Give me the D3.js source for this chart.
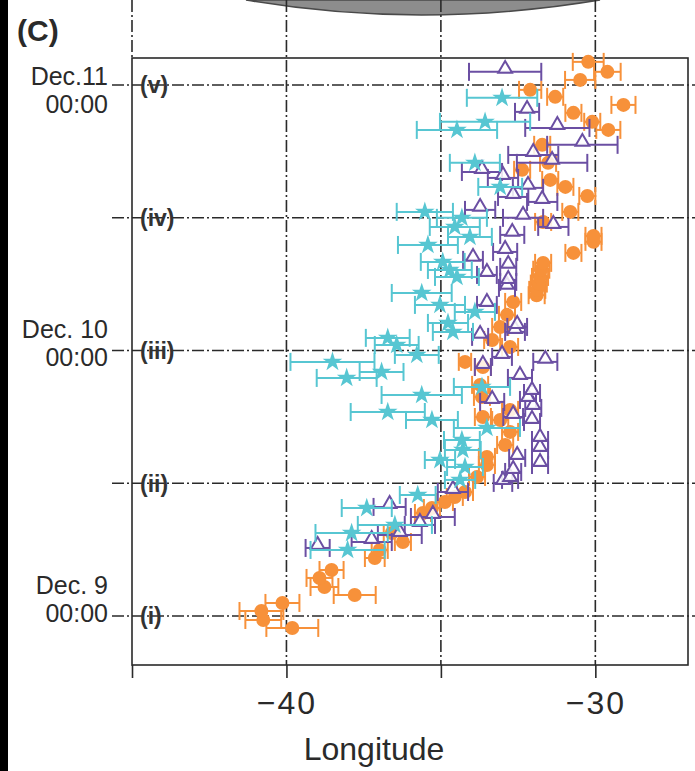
<!DOCTYPE html>
<html>
<head>
<meta charset="utf-8">
<script src="https://cdn.jsdelivr.net/npm/d3@7"></script>
<style>
  html, body { margin: 0; padding: 0; background: #fff; }
  svg { display: block; }
  text { font-family: "Liberation Sans", Arial, Helvetica, sans-serif; fill: #2a2a2a; }
</style>
</head>
<body>
<svg id="chart" width="695" height="771"></svg>
<script>
// Tracked features: [hours after Dec. 9 00:00, longitude, half-width of uncertainty in degrees]
const orangeCircles = [
  [-1.08, -39.81, 0.84], [-0.36, -40.75, 0.58], [0.45, -40.81, 0.71], [1.18, -40.13, 0.55],
  [1.90, -37.79, 0.68], [2.62, -38.77, 0.45], [3.44, -38.93, 0.42], [4.16, -38.54, 0.39],
  [5.24, -37.14, 0.32], [5.97, -36.98, 0.26], [6.69, -36.23, 0.26], [7.50, -36.59, 0.26],
  [9.31, -35.58, 0.26], [9.76, -35.29, 0.26], [10.31, -34.87, 0.26], [10.76, -34.55, 0.26],
  [11.21, -34.22, 0.26], [12.57, -33.83, 0.26], [13.65, -33.51, 0.26], [14.38, -33.51, 0.26],
  [15.46, -32.92, 0.26], [16.64, -32.76, 0.26], [17.72, -33.08, 0.26], [17.99, -33.64, 0.26],
  [18.63, -32.76, 0.26], [19.80, -33.67, 0.26], [20.89, -33.73, 0.26], [22.51, -33.64, 0.26],
  [22.97, -34.22, 0.20], [24.95, -33.34, 0.26], [24.32, -32.76, 0.26], [26.13, -33.08, 0.26],
  [27.22, -32.86, 0.26], [28.39, -32.66, 0.26], [29.00, -31.90, 0.26], [29.48, -31.88, 0.26],
  [30.05, -31.83, 0.26], [30.65, -31.79, 0.26], [31.30, -31.75, 0.26], [31.92, -31.69, 0.26],
  [32.82, -30.71, 0.26], [33.82, -30.06, 0.26], [34.36, -30.06, 0.26],
  [35.62, -31.69, 0.26], [36.53, -30.81, 0.26], [37.97, -30.26, 0.26], [38.79, -30.97, 0.26],
  [39.42, -31.46, 0.26], [40.33, -32.37, 0.26], [40.96, -31.53, 0.26], [42.59, -31.72, 0.26],
  [43.94, -29.58, 0.39], [44.67, -30.10, 0.26], [45.48, -30.71, 0.26], [46.20, -29.09, 0.39],
  [46.93, -31.30, 0.26], [47.56, -32.11, 0.36], [48.46, -30.49, 0.49], [49.19, -29.61, 0.43],
  [50.09, -30.23, 0.50]
];

const purpleTriangles = [
  [6.15, -38.99, 0.39], [6.69, -37.24, 0.65], [7.32, -36.33, 0.71], [9.86, -36.66, 0.52],
  [8.23, -35.68, 0.49], [8.95, -35.26, 0.71], [11.21, -34.61, 0.49], [12.03, -32.99, 0.30],
  [12.30, -32.76, 0.26], [13.02, -32.66, 0.26], [13.65, -31.79, 0.26], [14.29, -32.53, 0.26],
  [15.01, -31.79, 0.26], [15.91, -31.79, 0.26], [17.54, -32.05, 0.26], [17.99, -32.66, 0.32],
  [18.81, -32.01, 0.26], [19.53, -32.18, 0.26], [20.16, -32.05, 0.26], [19.35, -33.34, 0.39],
  [21.52, -32.44, 0.39], [22.97, -31.62, 0.39], [23.42, -33.02, 0.32], [22.51, -33.64, 0.26],
  [25.23, -33.73, 0.26], [25.68, -32.60, 0.32], [26.13, -32.53, 0.32], [28.12, -33.51, 0.32],
  [29.66, -32.86, 0.26], [30.20, -32.82, 0.26], [31.56, -32.82, 0.26], [30.83, -33.51, 0.32],
  [32.19, -33.96, 0.32], [32.91, -32.92, 0.39], [34.45, -32.69, 0.39], [35.17, -31.36, 0.49],
  [35.99, -32.34, 0.65], [36.71, -33.73, 0.49], [37.43, -31.72, 0.49], [37.88, -32.66, 0.49],
  [38.70, -32.18, 0.49], [39.60, -32.99, 0.49], [40.14, -33.67, 0.65], [40.96, -31.40, 1.14],
  [41.68, -32.01, 0.81], [42.59, -30.42, 1.14], [44.12, -31.23, 1.04], [45.57, -32.21, 0.39],
  [49.19, -32.92, 1.17]
];

const cyanStars = [
  [5.97, -38.02, 1.20], [7.50, -37.89, 1.17], [9.76, -37.40, 0.81], [8.23, -36.49, 1.20],
  [10.94, -35.75, 0.58], [12.30, -34.38, 0.49], [13.47, -34.22, 0.58], [14.10, -35.03, 0.49],
  [15.01, -34.29, 0.58], [15.91, -34.32, 0.58], [17.00, -33.51, 1.07], [17.72, -35.29, 0.84],
  [18.44, -36.72, 1.20], [19.98, -35.62, 1.30], [20.71, -33.67, 0.91], [21.52, -38.05, 0.97],
  [22.06, -36.92, 0.71], [22.97, -38.51, 1.36], [23.60, -35.78, 0.71], [24.50, -36.43, 0.71],
  [25.14, -36.72, 0.71], [25.68, -34.61, 0.65], [26.49, -34.77, 0.65], [27.49, -33.90, 0.65],
  [28.12, -35.03, 0.81], [29.20, -35.62, 0.97], [30.65, -34.48, 0.71], [31.28, -34.71, 0.71],
  [32.01, -34.94, 0.71], [33.54, -35.42, 0.97], [34.27, -34.06, 0.71], [35.17, -34.55, 0.81],
  [35.99, -34.32, 0.81], [36.53, -35.52, 0.91], [38.79, -33.08, 0.71], [40.96, -33.90, 0.81],
  [43.94, -34.48, 1.30], [44.67, -33.57, 1.46], [46.84, -33.02, 1.14]
];

// Axis ticks and labels
const lonTicks = [-45, -40, -35, -30];
const lonTickLabels = ["", "\u221240", "", "\u221230"];
const dayTicks = [0, 24, 48];
const dayLabels = [["Dec. 9", "00:00"], ["Dec. 10", "00:00"], ["Dec.11", "00:00"]];
const stageHours = [0, 12, 24, 36, 48];
const stageLabels = ["(i)", "(ii)", "(iii)", "(iv)", "(v)"];

const W = 695, H = 771;
const plot = { left: 132, right: 688, top: 58, bottom: 665 };
const svg = d3.select("#chart");

const x = d3.scaleLinear().domain([-45, -27]).range([plot.left, plot.right]);
const y = d3.scaleLinear().domain([-4.43, 50.44]).range([plot.bottom, plot.top]);

const ink = "#2a2a2a";
const dashDot = "12,3,2,3";

svg.append("rect").attr("width", W).attr("height", H).attr("fill", "#fff");
svg.append("rect").attr("x", 0).attr("y", 0).attr("width", 8).attr("height", H).attr("fill", "#000");

// Lower rim of the globe panel above
svg.append("path")
  .attr("d", "M246,0 Q420,30 600,0 Z")
  .attr("fill", "#8d8d8d")
  .attr("stroke", "#4a4a4a")
  .attr("stroke-width", 1.5);

// Vertical guide lines (continuing from the panel above)
svg.append("g").selectAll("line")
  .data([-40, -35, -30])
  .join("line")
  .attr("x1", d => x(d)).attr("x2", d => x(d))
  .attr("y1", 0).attr("y2", plot.bottom)
  .attr("stroke", ink).attr("stroke-width", 1.6)
  .attr("stroke-dasharray", dashDot);
svg.append("line")
  .attr("x1", plot.left).attr("x2", plot.left)
  .attr("y1", 0).attr("y2", plot.top)
  .attr("stroke", ink).attr("stroke-width", 1.6)
  .attr("stroke-dasharray", dashDot);

// Horizontal stage lines
svg.append("g").selectAll("line")
  .data(stageHours)
  .join("line")
  .attr("x1", 112).attr("x2", W)
  .attr("y1", d => y(d)).attr("y2", d => y(d))
  .attr("stroke", ink).attr("stroke-width", 1.6)
  .attr("stroke-dasharray", dashDot);

// Stage labels
svg.append("g").selectAll("text")
  .data(stageHours)
  .join("text")
  .attr("x", 140)
  .attr("y", d => y(d))
  .attr("dy", "0.36em")
  .attr("font-size", 23)
  .attr("font-weight", "bold")
  .style("fill", "#333")
  .text((d, i) => stageLabels[i]);

// Frame
svg.append("rect")
  .attr("x", plot.left).attr("y", plot.top)
  .attr("width", plot.right - plot.left).attr("height", plot.bottom - plot.top)
  .attr("fill", "none").attr("stroke", ink).attr("stroke-width", 1.6);

// Series with horizontal error bars
const capHalf = 9;
function drawSeries(data, color, shape) {
  const g = svg.append("g");
  const bars = g.append("g").attr("stroke", color).attr("stroke-width", 2).attr("fill", "none");
  data.forEach(([h, lon, e]) => {
    const cy = y(h), x0 = x(lon - e), x1 = x(lon + e);
    bars.append("line").attr("x1", x0).attr("x2", x1).attr("y1", cy).attr("y2", cy);
    bars.append("line").attr("x1", x0).attr("x2", x0).attr("y1", cy - capHalf).attr("y2", cy + capHalf);
    bars.append("line").attr("x1", x1).attr("x2", x1).attr("y1", cy - capHalf).attr("y2", cy + capHalf);
  });
  const marks = g.append("g");
  if (shape === "circle") {
    marks.selectAll("circle").data(data).join("circle")
      .attr("cx", d => x(d[1])).attr("cy", d => y(d[0])).attr("r", 7)
      .attr("fill", color);
  } else if (shape === "triangle") {
    const tri = d3.symbol().type(d3.symbolTriangle).size(82);
    marks.selectAll("path").data(data).join("path")
      .attr("d", tri)
      .attr("transform", d => `translate(${x(d[1])},${y(d[0]) - 3})`)
      .attr("fill", "#fff").attr("fill-opacity", 0.85)
      .attr("stroke", color).attr("stroke-width", 2);
  } else {
    const star = d3.symbol().type(d3.symbolStar).size(120);
    marks.selectAll("path").data(data).join("path")
      .attr("d", star)
      .attr("transform", d => `translate(${x(d[1])},${y(d[0])})`)
      .attr("fill", color);
  }
}
drawSeries(orangeCircles, "#f7913a", "circle");
drawSeries(purpleTriangles, "#6b4fa3", "triangle");
drawSeries(cyanStars, "#57c6d2", "star");

// Longitude axis
const xAxis = d3.axisBottom(x)
  .tickValues(lonTicks)
  .tickSize(13)
  .tickPadding(13)
  .tickFormat((d, i) => lonTickLabels[i]);
const ax = svg.append("g").attr("transform", `translate(0,${plot.bottom})`).call(xAxis);
ax.select(".domain").remove();
ax.selectAll(".tick line").attr("stroke", ink).attr("stroke-width", 1.6);
ax.selectAll(".tick text")
  .attr("font-size", 32)
  .attr("letter-spacing", 2)
  .attr("font-family", "Liberation Sans, Arial, sans-serif")
  .style("fill", ink);

svg.append("text")
  .attr("x", 374)
  .attr("y", 760)
  .attr("text-anchor", "middle")
  .attr("font-size", 32)
  .text("Longitude");

// Date labels on the time axis
const dayLabelShift = [-17, -7, 5];
const dl = svg.append("g").selectAll("text")
  .data(dayTicks)
  .join("text")
  .attr("x", 108)
  .attr("text-anchor", "end")
  .attr("font-size", 25);
dl.append("tspan")
  .attr("x", 108)
  .attr("y", (d, i) => y(d) + dayLabelShift[i] - 5)
  .text((d, i) => dayLabels[i][0]);
dl.append("tspan")
  .attr("x", 108)
  .attr("y", (d, i) => y(d) + dayLabelShift[i] + 23)
  .text((d, i) => dayLabels[i][1]);

// Panel letter
svg.append("text")
  .attr("x", 17).attr("y", 41)
  .attr("font-size", 30).attr("font-weight", "bold")
  .text("(C)");
</script>
</body>
</html>
